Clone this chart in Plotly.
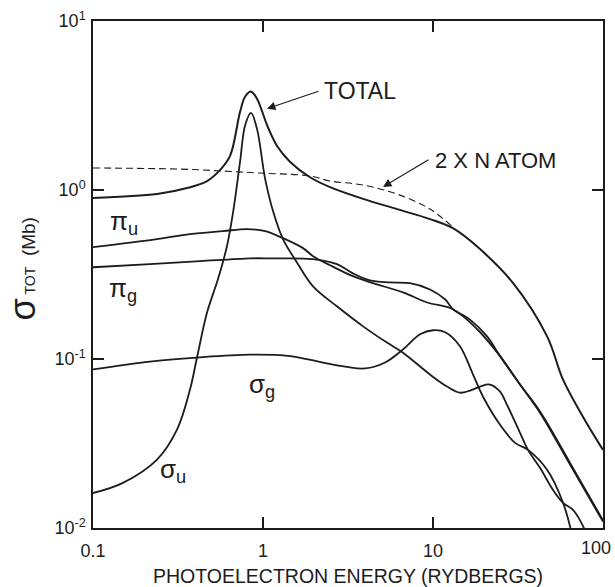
import plotly.graph_objects as go

# ---- data (E in Rydbergs, sigma in Mb) ----
total_E = [0.1, 0.238, 0.362, 0.469, 0.558, 0.640, 0.733, 0.784, 0.850, 0.922, 1.06, 1.21, 1.44,
           1.89, 2.48, 3.88, 6.14, 9.60, 13.1, 18.9, 29.6, 46.9, 58.2, 76.2, 100]
total_S = [0.898, 0.946, 1.03, 1.13, 1.31, 1.59, 2.90, 3.56, 3.82, 3.47, 2.40, 1.82, 1.47,
           1.19, 1.04, 0.886, 0.771, 0.673, 0.594, 0.447, 0.281, 0.136, 0.0755, 0.0456, 0.0290]

atom_E = [0.1, 0.325, 0.536, 0.959, 1.89, 2.48, 3.88, 6.14, 9.60, 13.1]
atom_S = [1.35, 1.33, 1.30, 1.26, 1.21, 1.13, 1.07, 0.946, 0.771, 0.602]

pi_u_E = [0.1, 0.238, 0.372, 0.582, 0.805, 1.03, 1.31, 1.72, 1.97, 2.48, 3.38, 4.44, 6.66,
          9.22, 13.1, 18.2, 24.8, 32.5, 42.6, 64.0, 100]
pi_u_S = [0.459, 0.512, 0.548, 0.571, 0.587, 0.571, 0.519, 0.453, 0.406, 0.359, 0.309, 0.281,
          0.248, 0.216, 0.197, 0.150, 0.104, 0.0706, 0.0481, 0.0237, 0.0109]

pi_g_E = [0.1, 0.216, 0.426, 0.840, 1.10, 1.97, 2.72, 3.38, 4.26, 5.58, 7.32, 9.60, 11.8,
          13.1, 16.5, 20.8, 24.8, 32.5, 42.6, 64.0, 100]
pi_g_S = [0.349, 0.364, 0.379, 0.394, 0.394, 0.390, 0.364, 0.321, 0.292, 0.284, 0.281, 0.258,
          0.225, 0.197, 0.171, 0.136, 0.104, 0.0706, 0.0489, 0.0243, 0.0111]

sig_g_E = [0.1, 0.216, 0.409, 0.840, 1.44, 2.25, 3.04, 3.98, 5.22, 6.66, 8.39, 10.0, 11.8,
           14.4, 17.2, 19.7, 24.8, 30.4, 36.2, 46.9, 58.2, 65.8]
sig_g_S = [0.0867, 0.0966, 0.102, 0.106, 0.104, 0.0953, 0.0902, 0.0879, 0.0953, 0.114, 0.140,
           0.148, 0.144, 0.119, 0.0809, 0.0598, 0.0408, 0.0319, 0.0290, 0.0221, 0.0141, 0.0091]

sig_u_E = [0.1, 0.150, 0.238, 0.312, 0.372, 0.409, 0.469, 0.543, 0.614, 0.667, 0.733, 0.784,
           0.850, 0.922, 1.03, 1.15, 1.31, 1.58, 1.97, 2.72, 3.88, 5.36, 6.66, 9.60, 12.1,
           14.4, 16.5, 18.9, 21.6, 24.8, 27.2, 32.5, 36.2, 42.6, 50.8, 58.2, 66.6, 73.3, 80.5]
sig_u_S = [0.0161, 0.0185, 0.0254, 0.0382, 0.0659, 0.102, 0.189, 0.296, 0.466, 0.740, 1.47,
           2.40, 2.86, 2.30, 1.16, 0.740, 0.512, 0.374, 0.269, 0.205, 0.156, 0.125, 0.109,
           0.0809, 0.0687, 0.0632, 0.0650, 0.0687, 0.0706, 0.0641, 0.0537, 0.0366, 0.0290,
           0.0227, 0.0168, 0.0141, 0.0128, 0.0111, 0.0091]

x_tickvals = [0.1, 1, 10, 100]
x_ticktext = ["0.1", "1", "10", ""]      # "100" is drawn as a shifted label below
x_last_label = "100"
y_tickvals = [0.01, 0.1, 1, 10]
y_ticktext = ["10<sup>-2</sup>", "10<sup>-1</sup>", "10<sup>0</sup>", "10<sup>1</sup>"]

INK = "#1c1c1c"
FONT = "Liberation Sans, Arial, sans-serif"

fig = go.Figure()

def curve(E, S, width=2.0, dash=None):
    fig.add_trace(go.Scatter(
        x=E, y=S, mode="lines",
        line=dict(color=INK, width=width, shape="spline", smoothing=1.0, dash=dash),
        hoverinfo="skip", showlegend=False))

curve(atom_E, atom_S, width=1.1, dash="7px,4px")
curve(total_E, total_S)
curve(pi_u_E, pi_u_S, width=1.8)
curve(pi_g_E, pi_g_S, width=1.8)
curve(sig_g_E, sig_g_S, width=1.8)
curve(sig_u_E, sig_u_S, width=1.8)

axis_common = dict(
    showline=True, linecolor=INK, linewidth=1.5, mirror="ticks",
    ticks="inside", ticklen=11, tickwidth=1.5, tickcolor=INK,
    showgrid=False, zeroline=False, automargin=False,
    tickfont=dict(family=FONT, size=18, color=INK),
)

fig.update_xaxes(type="log", range=[-1, 2], tickmode="array",
                 tickvals=x_tickvals, ticktext=x_ticktext,
                 ticklabelstandoff=6, **axis_common)
fig.update_yaxes(type="log", range=[-2, 1], tickmode="array",
                 tickvals=y_tickvals, ticktext=y_ticktext,
                 ticklabelstandoff=2, **axis_common)

ann = []
# last x tick label, nudged left so it stays inside the page
ann.append(dict(xref="paper", yref="paper", x=1.0, y=0.0, xanchor="right", yanchor="top",
                xshift=10, yshift=-8, text=x_last_label, showarrow=False,
                font=dict(family=FONT, size=18, color=INK)))
# axis titles
ann.append(dict(xref="paper", yref="paper", x=0.5, y=-0.095, xanchor="center", yanchor="middle",
                text="PHOTOELECTRON ENERGY (RYDBERGS)", showarrow=False,
                font=dict(family=FONT, size=19.5, color=INK)))
ann.append(dict(xref="paper", yref="paper", x=-0.139, y=0.51, xanchor="center", yanchor="middle",
                textangle=-90, showarrow=False,
                text="<span style='font-size:36px'>σ</span><span style='font-size:14px'> TOT</span>  (Mb)",
                font=dict(family=FONT, size=19, color=INK)))
# curve labels
ann.append(dict(xref="paper", yref="paper", x=0.449, y=0.862, xanchor="left", yanchor="middle",
                text="TOTAL", showarrow=False, font=dict(family=FONT, size=23, color=INK)))
ann.append(dict(xref="paper", yref="paper", x=0.667, y=0.724, xanchor="left", yanchor="middle",
                text="2 X N ATOM", showarrow=False, font=dict(family=FONT, size=22, color=INK)))
for txt, px, py in [("π<sub>u</sub>", 0.061, 0.602), ("π<sub>g</sub>", 0.059, 0.471),
                    ("σ<sub>g</sub>", 0.331, 0.282), ("σ<sub>u</sub>", 0.157, 0.114)]:
    ann.append(dict(xref="paper", yref="paper", x=px, y=py, xanchor="center", yanchor="middle",
                    text=txt, showarrow=False, font=dict(family=FONT, size=26, color=INK)))
# arrows (tip in log10 axis units, tail offset in pixels)
ann.append(dict(x=0.0235, y=0.481, ax=53, ay=-18, text=" ", showarrow=True,
                arrowhead=2, arrowsize=1.4, arrowwidth=1.2, arrowcolor=INK,
                font=dict(size=1)))
ann.append(dict(x=0.706, y=0.018, ax=47, ay=-28, text=" ", showarrow=True,
                arrowhead=2, arrowsize=1.4, arrowwidth=1.2, arrowcolor=INK,
                font=dict(size=1)))

fig.update_layout(
    width=615, height=587,
    margin=dict(l=93, r=12, t=21, b=59, autoexpand=False),
    paper_bgcolor="white", plot_bgcolor="white",
    showlegend=False, annotations=ann,
)

fig.write_html("out.html")
